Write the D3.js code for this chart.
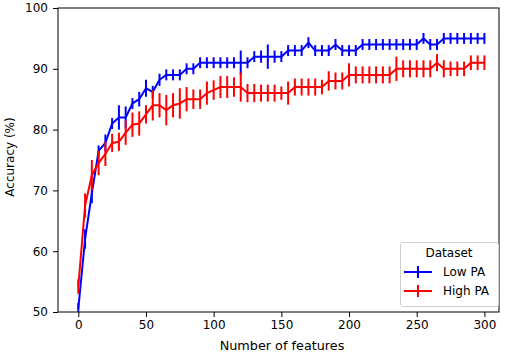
<!DOCTYPE html>
<html>
<head>
<meta charset="utf-8">
<script src="https://cdn.jsdelivr.net/npm/d3@7"></script>
<style>
body { margin: 0; background: #fff; }
text { font-family: "DejaVu Sans", sans-serif; }
</style>
</head>
<body>
<script>
const WIDTH = 510;
const HEIGHT = 354;
const LEFT = 58, RIGHT = 499, TOP = 8, BOTTOM = 312;

// number of features
const features = [0,5,10,15,20,25,30,35,40,45,50,55,60,65,70,75,80,85,90,95,
	100,105,110,115,120,125,130,135,140,145,150,155,160,165,170,175,180,185,190,195,
	200,205,210,215,220,225,230,235,240,245,250,255,260,265,270,275,280,285,290,295,300];

const lowPA = [50.5,62,69.5,76.5,77.8,81,82,82,84.3,85,86.8,86.2,88.2,89,89,89,90,90,91,91,
	91,91,91,91,91,91,92,92,92,92,92,93,93,93,94.3,93,93,93,94,93,
	93,93,94,94,94,94,94,94,94,94,94,95,94,94,95,95,95,95,95,95,95];
const lowPAErr = [1,1.6,1.6,0.9,1.4,0.9,2,1.8,0.9,1.2,1.4,1,1,0.9,0.9,0.9,0.9,0.9,0.9,0.9,
	0.9,0.9,0.9,0.9,2,0.9,0.9,1,2,1,0.9,0.9,0.9,0.9,0.9,0.9,0.9,0.9,0.9,0.9,
	0.9,0.9,0.9,0.9,0.9,0.9,0.9,0.9,0.9,0.9,0.9,0.9,0.9,0.9,0.9,0.9,0.9,0.9,0.9,0.9,0.9];

const highPA = [54.2,67.5,72.5,74.5,76,77.8,78,79.5,80.8,81,82.5,84,84,83.2,84,84.3,85,85,85,86,
	86.5,87,87,87,87,86,86,86,86,86,86,86,87,87,87,87,87,88,88,88,
	89,89,89,89,89,89,89,90,90,90,90,90,90,91,90,90,90,90,91,91,91];
const highPAErr = [1.2,2,2.5,2,2,1.5,1.5,2,2,2,1.5,2.5,2,2.5,2,2.5,2,1.6,1.6,1.9,
	1.6,1.8,1.8,1.6,2.4,1.5,1.5,1.4,1.4,1.4,1.1,1.9,1.4,1.4,1.4,1.4,1.2,1.6,1.4,1.4,
	1.9,1.4,1.4,1.4,1.4,1.4,1.4,2,1.4,1.4,1.4,1.4,1.4,1.4,1.4,1.2,1.2,1.2,1.2,1.2,1.2];

const xTicks = [0,50,100,150,200,250,300];
const yTicks = [50,60,70,80,90,100];

var drawChart = function(){
	var svg = d3.select('body')
		.append('svg')
		.attr('width', WIDTH)
		.attr('height', HEIGHT);

	var xScale = d3.scaleLinear().domain([0, 300]).range([78.3, 484.4]);
	var yScale = d3.scaleLinear().domain([50, 100]).range([BOTTOM, TOP]);

	var xAxis = d3.axisBottom(xScale).tickValues(xTicks).tickSize(5).tickPadding(3);
	var gx = svg.append('g')
		.attr('transform', 'translate(0,' + BOTTOM + ')')
		.call(xAxis);
	var yAxis = d3.axisLeft(yScale).tickValues(yTicks).tickSize(5).tickPadding(5);
	var gy = svg.append('g')
		.attr('transform', 'translate(' + LEFT + ',0)')
		.call(yAxis);
	[gx, gy].forEach(function(g){
		g.select('.domain').remove();
		g.selectAll('.tick line').attr('stroke', '#000').attr('stroke-width', 1);
		g.selectAll('.tick text').attr('fill', '#000')
			.style('font-size', '12px').style('font-family', '"DejaVu Sans", sans-serif');
	});

	svg.append('clipPath').attr('id', 'plotclip')
		.append('rect').attr('x', LEFT).attr('y', TOP)
		.attr('width', RIGHT - LEFT).attr('height', BOTTOM - TOP);

	var plot = svg.append('g').attr('clip-path', 'url(#plotclip)');

	var series = [
		{name: 'Low PA', color: '#0000ff', values: lowPA, errs: lowPAErr},
		{name: 'High PA', color: '#ff0000', values: highPA, errs: highPAErr}
	];

	var line = d3.line()
		.x(function(d){ return xScale(d.x); })
		.y(function(d){ return yScale(d.y); });

	series.forEach(function(s){
		var pts = features.map(function(f, i){ return {x: f, y: s.values[i], e: s.errs[i]}; });
		var g = plot.append('g');
		g.append('path')
			.attr('d', line(pts))
			.attr('fill', 'none')
			.attr('stroke', s.color)
			.attr('stroke-width', 2);
		g.selectAll('line.err')
			.data(pts)
			.enter()
			.append('line')
			.attr('class', 'err')
			.attr('x1', function(d){ return xScale(d.x); })
			.attr('x2', function(d){ return xScale(d.x); })
			.attr('y1', function(d){ return yScale(d.y - d.e); })
			.attr('y2', function(d){ return yScale(d.y + d.e); })
			.attr('stroke', s.color)
			.attr('stroke-width', 2);
	});

	// frame
	svg.append('rect')
		.attr('x', LEFT).attr('y', TOP)
		.attr('width', RIGHT - LEFT).attr('height', BOTTOM - TOP)
		.attr('fill', 'none').attr('stroke', '#000').attr('stroke-width', 1);

	// axis labels
	svg.append('text')
		.attr('x', 282).attr('y', 350)
		.attr('text-anchor', 'middle')
		.style('font-size', '12.8px')
		.text('Number of features');
	svg.append('text')
		.attr('transform', 'translate(14,' + 157 + ') rotate(-90)')
		.attr('text-anchor', 'middle')
		.style('font-size', '12px')
		.text('Accuracy (%)');

	// legend
	var legend = svg.append('g');
	legend.append('rect')
		.attr('x', 400.5).attr('y', 242.5)
		.attr('width', 98).attr('height', 64)
		.attr('rx', 2.5)
		.attr('fill', '#fff').attr('fill-opacity', 0.8)
		.attr('stroke', '#d0d0d0').attr('stroke-width', 1);
	legend.append('text')
		.attr('x', 449).attr('y', 257)
		.attr('text-anchor', 'middle')
		.style('font-size', '12px')
		.text('Dataset');
	series.forEach(function(s, i){
		var cy = 272 + i * 19;
		legend.append('line')
			.attr('x1', 404).attr('x2', 432).attr('y1', cy).attr('y2', cy)
			.attr('stroke', s.color).attr('stroke-width', 2);
		legend.append('line')
			.attr('x1', 418).attr('x2', 418).attr('y1', cy - 6).attr('y2', cy + 6)
			.attr('stroke', s.color).attr('stroke-width', 2);
		legend.append('text')
			.attr('x', 443).attr('y', cy + 4)
			.style('font-size', '12px')
			.text(s.name);
	});
};

drawChart();
</script>
</body>
</html>
